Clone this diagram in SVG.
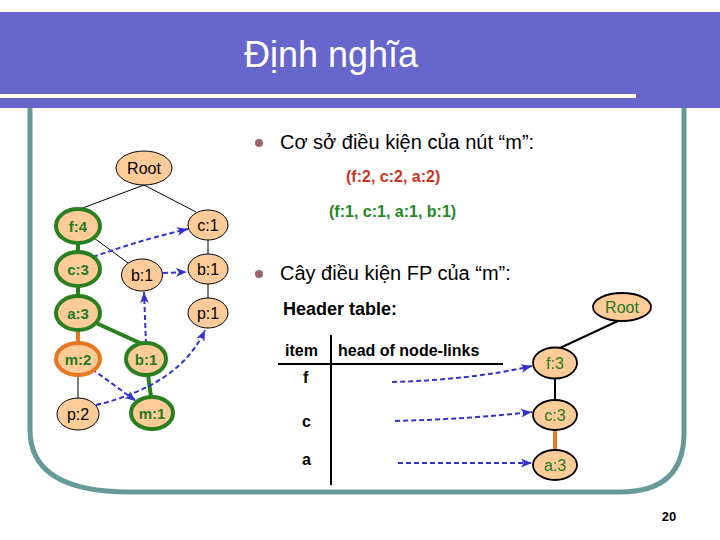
<svg xmlns="http://www.w3.org/2000/svg" width="720" height="540" viewBox="0 0 720 540">
<defs>
<style>
.t{font-family:"Liberation Sans",Arial,sans-serif}
.n{fill:#FFCC99;stroke:#000;stroke-width:1}
.nb{fill:#FFCC99;stroke:#000;stroke-width:1.8}
.ng{fill:#FFCC99;stroke:#2A7F1F;stroke-width:4}
.no{fill:#FFCC99;stroke:#E87722;stroke-width:4}
.lb{font-family:"Liberation Sans",Arial,sans-serif;font-size:16px;fill:#000;text-anchor:middle}
.lg{font-family:"Liberation Sans",Arial,sans-serif;font-size:15px;font-weight:bold;fill:#217A1E;text-anchor:middle}
.lr{font-family:"Liberation Sans",Arial,sans-serif;font-size:16px;fill:#217A1E;text-anchor:middle}
.e{stroke:#000;stroke-width:1;fill:none}
.eg{stroke:#2A7F1F;stroke-width:4;fill:none}
.eo{stroke:#E87722;stroke-width:4;fill:none}
.d{stroke:#3333CC;stroke-width:2;stroke-dasharray:5,3;fill:none;marker-end:url(#ah)}
.h{font-family:"Liberation Sans",Arial,sans-serif;font-size:16px;font-weight:bold;fill:#000}
</style>
<marker id="ah" viewBox="0 0 10 8" refX="10" refY="4" markerWidth="11" markerHeight="9" markerUnits="userSpaceOnUse" orient="auto">
<path d="M0,0 L10,4 L0,8 L2.5,4 z" fill="#3333CC"/>
</marker>
</defs>
<rect width="720" height="540" fill="#fff"/>
<g id="title">
<rect x="0" y="12" width="720" height="96" fill="#6666CC"/>
<rect x="0" y="94" width="636" height="4" fill="#fff"/>
<text class="t" x="331" y="67" font-size="36" fill="#fff" text-anchor="middle">Định nghĩa</text>
</g>
<path id="frame" d="M30,108 L30,430 Q30,492 130,492 L620,492 Q684,492 684,433 L684,108" fill="none" stroke="#669999" stroke-width="5"/>
<g id="connectors">
<line class="e" x1="144" y1="185" x2="80" y2="209" stroke-width="1.6"/>
<line class="e" x1="144" y1="185" x2="196" y2="212"/>
<line class="e" x1="94" y1="238" x2="128" y2="263"/>
<line class="e" x1="208" y1="240" x2="208" y2="254"/>
<line class="e" x1="208" y1="284" x2="208" y2="298"/>
<line class="e" x1="78" y1="375" x2="78" y2="398"/>
<line class="eg" x1="78" y1="243" x2="78" y2="252"/>
<line class="eg" x1="78" y1="286" x2="78" y2="296"/>
<line class="eo" x1="78" y1="330" x2="78" y2="342"/>
<line class="eg" x1="96" y1="323" x2="140" y2="343"/>
<line class="eg" x1="148" y1="375" x2="151" y2="397"/>
<line x1="620" y1="320" x2="560" y2="348" stroke="#000" stroke-width="2"/>
<line x1="555" y1="378" x2="555" y2="400" stroke="#000" stroke-width="2"/>
<line class="eo" x1="555" y1="430" x2="555" y2="450"/>
<path class="d" d="M93,257 Q140,240 188,229"/>
<path class="d" d="M163,273 L187,272"/>
<path class="d" d="M146,344 L144,292"/>
<path class="d" d="M92,369 L136,401"/>
<path class="d" d="M96,405 Q180,385 205,330"/>
<path class="d" d="M392,382 Q470,380 532,366"/>
<path class="d" d="M395,421 Q470,419 532,412"/>
<path class="d" d="M398,463 L532,463"/>
</g>
<g id="n-root"><ellipse class="n" cx="144" cy="168" rx="28" ry="17"/><text class="lb" x="144" y="174">Root</text></g>
<g id="n-f4"><ellipse class="ng" cx="78" cy="226" rx="22" ry="17"/><text class="lg" x="78" y="232">f:4</text></g>
<g id="n-c1"><ellipse class="n" cx="208" cy="225" rx="20" ry="15"/><text class="lb" x="208" y="231">c:1</text></g>
<g id="n-c3"><ellipse class="ng" cx="78" cy="269" rx="22" ry="17"/><text class="lg" x="78" y="275">c:3</text></g>
<g id="n-b1a"><ellipse class="n" cx="142" cy="275" rx="20.5" ry="16"/><text class="lb" x="142" y="281">b:1</text></g>
<g id="n-b1b"><ellipse class="n" cx="208" cy="269" rx="20" ry="15"/><text class="lb" x="208" y="275">b:1</text></g>
<g id="n-a3"><ellipse class="ng" cx="78" cy="313" rx="22" ry="17"/><text class="lg" x="78" y="319">a:3</text></g>
<g id="n-p1"><ellipse class="n" cx="208" cy="313" rx="20" ry="15"/><text class="lb" x="208" y="319">p:1</text></g>
<g id="n-m2"><ellipse class="no" cx="78" cy="359" rx="22" ry="16"/><text class="lg" x="78" y="365">m:2</text></g>
<g id="n-b1c"><ellipse class="ng" cx="146" cy="359" rx="20" ry="16"/><text class="lg" x="146" y="365">b:1</text></g>
<g id="n-p2"><ellipse class="n" cx="78" cy="414" rx="21" ry="16"/><text class="lb" x="78" y="420">p:2</text></g>
<g id="n-m1"><ellipse class="ng" cx="152" cy="413" rx="21" ry="16"/><text class="lg" x="152" y="419">m:1</text></g>
<g id="bullets">
<circle cx="259" cy="143" r="4" fill="#996666"/>
<text class="t" x="280" y="149" font-size="20" fill="#000">Cơ sở điều kiện của nút “m”:</text>
<text class="t" x="346" y="182" font-size="16" font-weight="bold" fill="#CC3322">(f:2, c:2, a:2)</text>
<text class="t" x="329" y="217" font-size="16" font-weight="bold" fill="#228822">(f:1, c:1, a:1, b:1)</text>
<circle cx="259" cy="274" r="4" fill="#996666"/>
<text class="t" x="280" y="280" font-size="20" fill="#000">Cây điều kiện FP của “m”:</text>
</g>
<g id="header-table">
<text class="h" x="283" y="315" style="font-size:18px">Header table:</text>
<text class="h" x="285" y="356">item</text>
<text class="h" x="338" y="356">head of node-links</text>
<line x1="278" y1="364" x2="503" y2="364" stroke="#000" stroke-width="2"/>
<line x1="331" y1="335" x2="331" y2="485" stroke="#000" stroke-width="2"/>
<text class="h" x="303" y="383">f</text>
<text class="h" x="302" y="427">c</text>
<text class="h" x="302" y="465">a</text>
</g>
<g id="r-root"><ellipse class="nb" cx="622" cy="307" rx="29" ry="14"/><text class="lr" x="622" y="313">Root</text></g>
<g id="r-f3"><ellipse class="nb" cx="555" cy="363" rx="22" ry="15.5"/><text class="lr" x="555" y="369">f:3</text></g>
<g id="r-c3"><ellipse class="nb" cx="555" cy="415" rx="22" ry="15"/><text class="lr" x="555" y="421">c:3</text></g>
<g id="r-a3"><ellipse class="nb" cx="555" cy="465" rx="22" ry="15"/><text class="lr" x="555" y="471">a:3</text></g>
<text class="t" x="669" y="521" font-size="13" font-weight="bold" fill="#000" text-anchor="middle">20</text>
</svg>
